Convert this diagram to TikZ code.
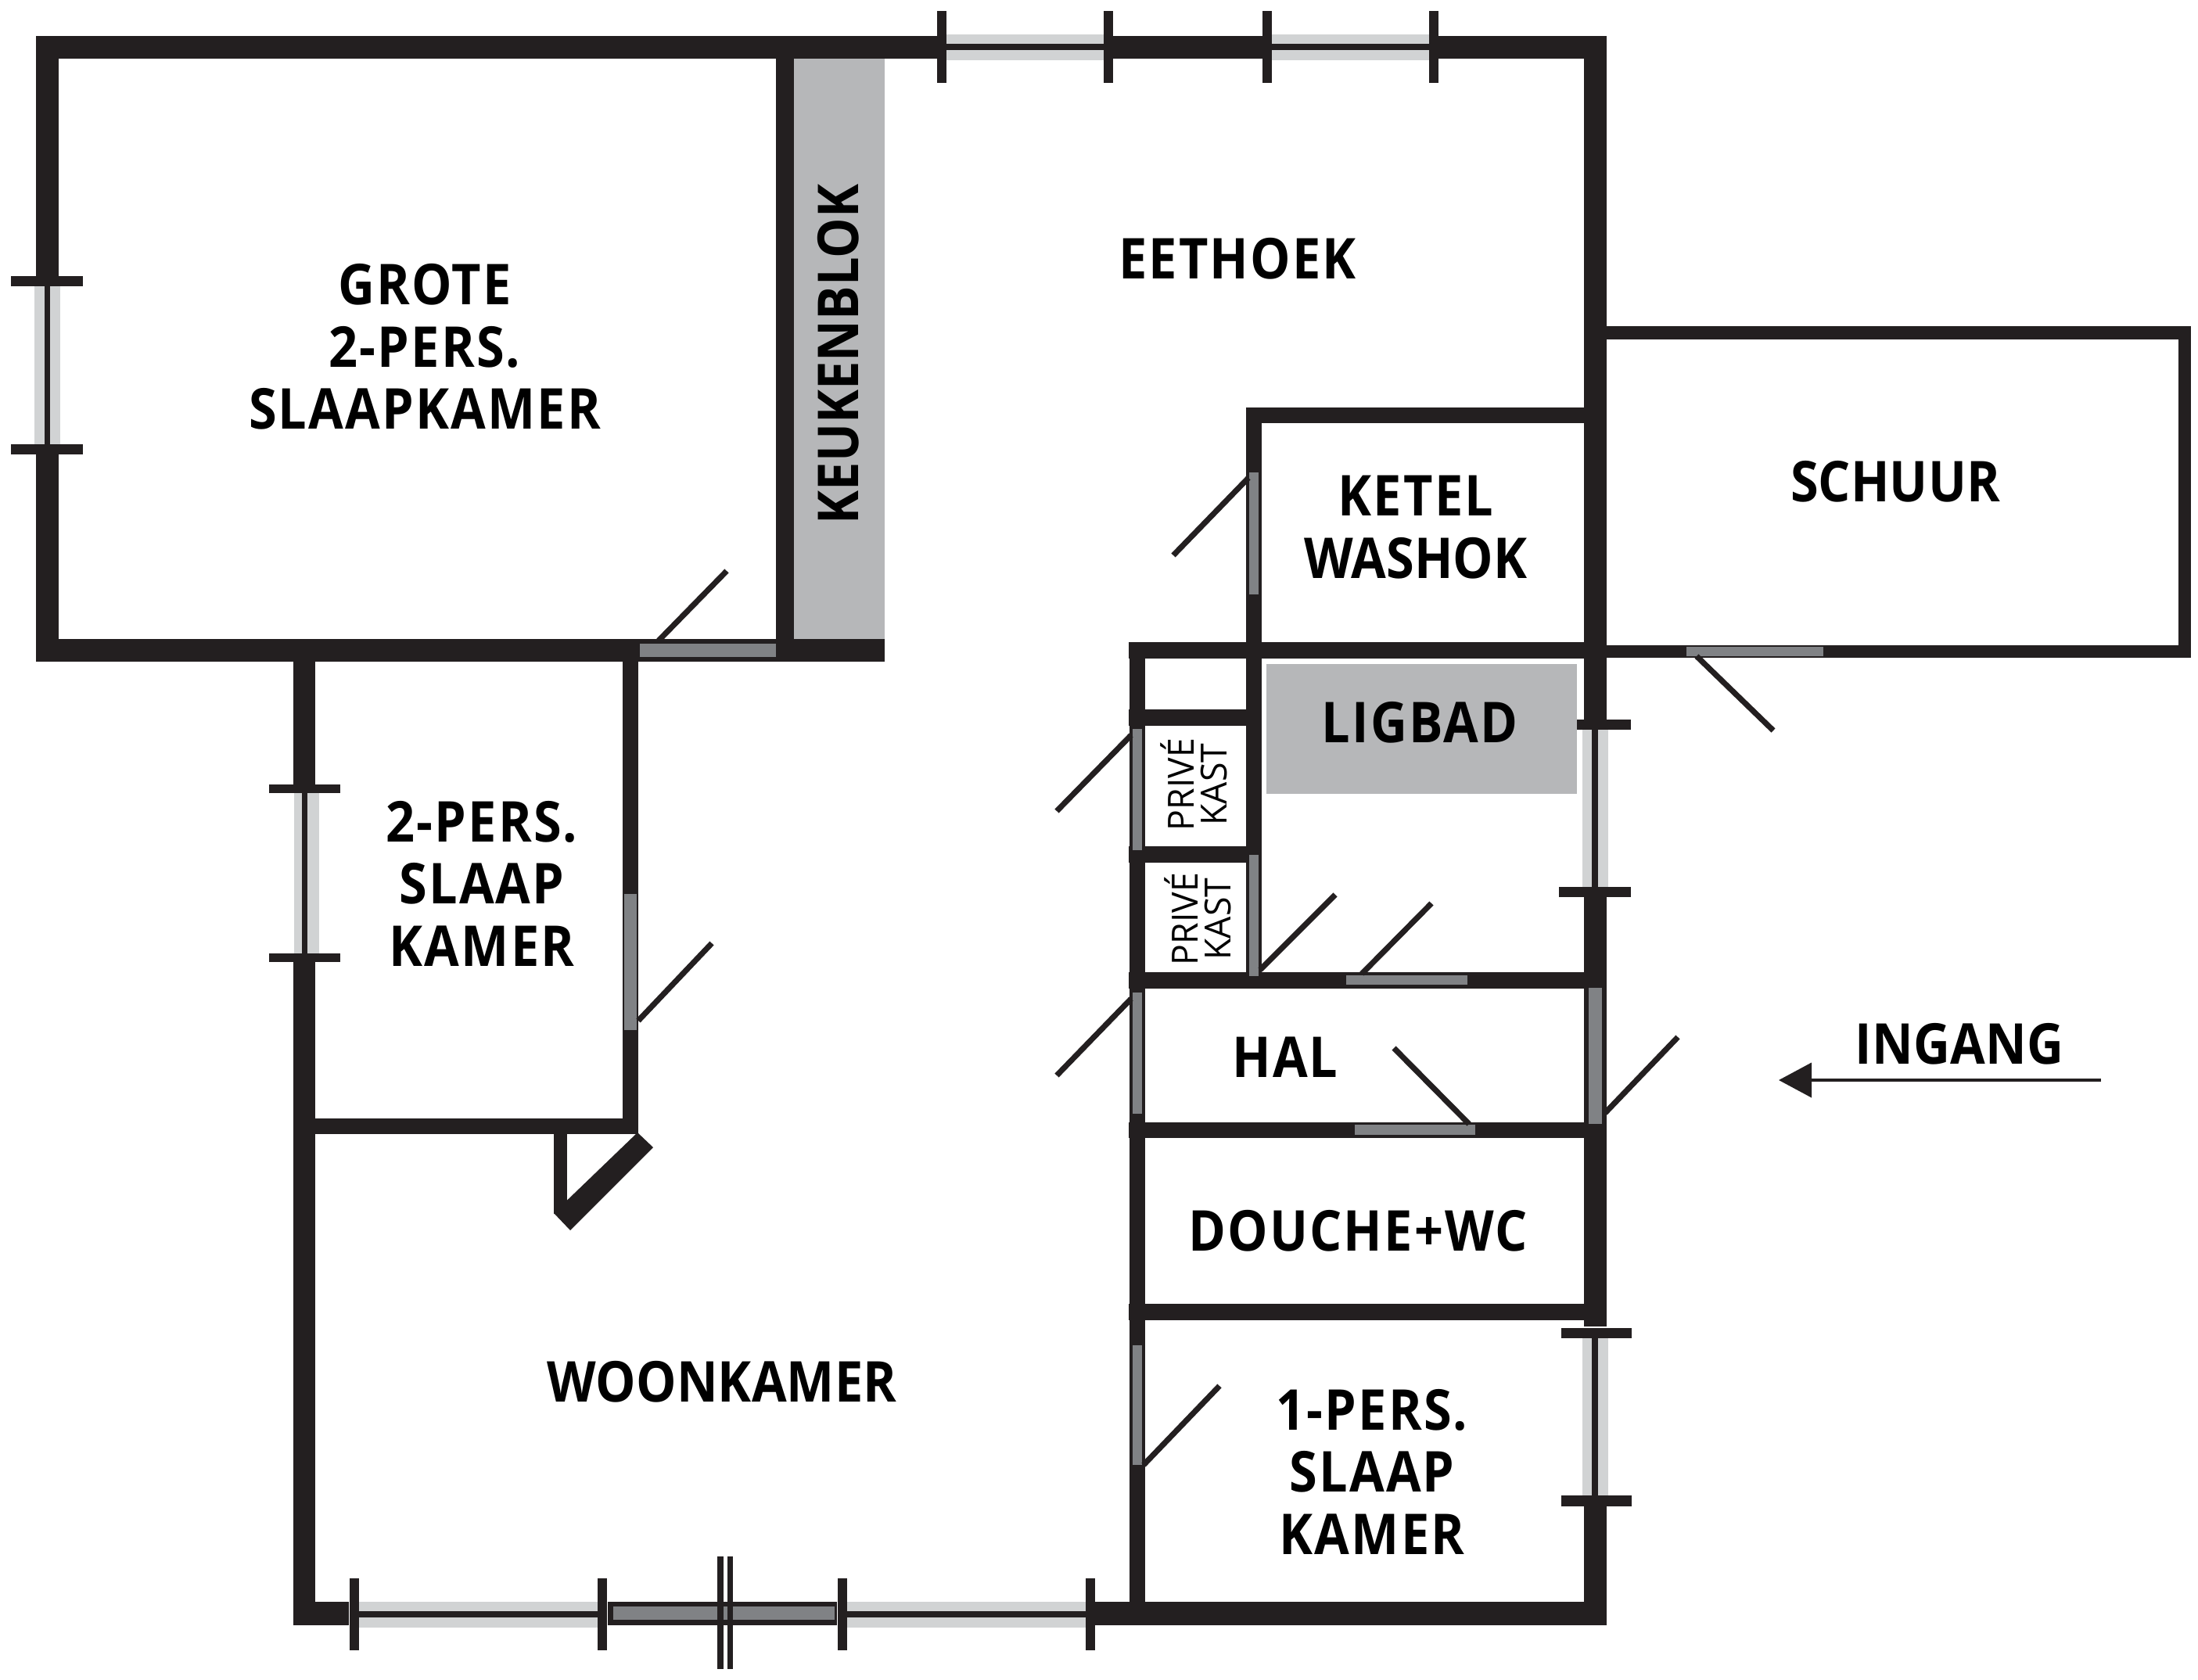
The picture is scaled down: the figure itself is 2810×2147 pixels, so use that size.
\documentclass[tikz,border=0pt]{standalone}
\usepackage{fontspec}
\setmainfont{Open Sans}
\newfontfamily\planbold[LetterSpace=3,FakeStretch=0.9]{Open Sans Bold}
\newfontfamily\plantight[LetterSpace=0.2,FakeStretch=0.9]{Open Sans Bold}
\newfontfamily\plankast[FakeStretch=0.97]{Open Sans}
\usetikzlibrary{arrows.meta}
\definecolor{wallc}{HTML}{231F20}
\definecolor{glassc}{HTML}{D1D3D4}
\definecolor{doorc}{HTML}{808285}
\definecolor{blockc}{HTML}{B6B7B9}
\tikzset{
 x=0.5pt,y=-0.5pt,
 wall/.style={fill=wallc},
 glass/.style={fill=glassc},
 door/.style={fill=doorc},
 block/.style={fill=blockc},
 leaf/.style={draw=wallc,line width=3.6pt,line cap=butt},
 room/.style={inner sep=0pt,text=black,font={\fontsize{36}{36}\planbold},text height=26pt,text depth=0pt,align=center},
 roomtight/.style={room,font={\fontsize{36}{36}\plantight}},
 kast/.style={inner sep=0pt,text=black,rotate=90,align=center,font={\fontsize{23}{21}\plankast}},
}
\newcommand{\hwin}[3]{% x1 x2 y-top of wall (horizontal window)
 \fill[glass] (#1,#3-2) rectangle (#2,#3+31);
 \fill[wall] (#1,#3+10) rectangle (#2,#3+18);
 \fill[wall] (#1-12,#3-32) rectangle (#1,#3+60);
 \fill[wall] (#2,#3-32) rectangle (#2+12,#3+60);
}
\begin{document}
\begin{tikzpicture}
\useasboundingbox (0,0) rectangle (2810,2147);
\fill[white] (0,0) rectangle (2810,2147);
% kitchen block and bath
\fill[block] (1015,75) rectangle (1131,819);
\fill[block] (1619,849) rectangle (2016,1015);
% top wall
\fill[wall] (46,46) rectangle (1204,75);
\fill[wall] (1417,46) rectangle (1620,75);
\fill[wall] (1833,46) rectangle (2054,75);
\hwin{1210}{1411}{46}
\hwin{1626}{1827}{46}
% big bedroom
\fill[wall] (46,46) rectangle (75,353);
\fill[wall] (46,581) rectangle (75,846);
\fill[wall] (46,817) rectangle (1131,846);
\fill[wall] (992,46) rectangle (1015,846);
\fill[glass] (44,366) rectangle (77,568);
\fill[wall] (57,366) rectangle (64,568);
\fill[wall] (14,353) rectangle (106,366);
\fill[wall] (14,568) rectangle (106,581);
\fill[door] (818,823) rectangle (992,840);
\draw[leaf] (842,819) -- (929,730);
% right wall
\fill[wall] (2025,46) rectangle (2054,920);
\fill[wall] (2025,1147) rectangle (2054,1696);
\fill[wall] (2025,1926) rectangle (2054,2078);
% bath window
\fill[glass] (2023,933) rectangle (2056,1134);
\fill[wall] (2035,933) rectangle (2043,1134);
\fill[wall] (2016,920) rectangle (2085,933);
\fill[wall] (1993,1134) rectangle (2085,1147);
% small bedroom window right
\fill[glass] (2023,1709) rectangle (2056,1912);
\fill[wall] (2035,1709) rectangle (2043,1912);
\fill[wall] (1996,1698) rectangle (2086,1711);
\fill[wall] (1996,1912) rectangle (2086,1926);
% schuur
\fill[wall] (2054,417) rectangle (2801,434);
\fill[wall] (2785,417) rectangle (2801,841);
\fill[wall] (2054,825) rectangle (2801,841);
\fill[door] (2156,827) rectangle (2331,839);
\draw[leaf] (2169,839) -- (2267,934);
% ketel
\fill[wall] (1594,521) rectangle (2054,541);
\fill[wall] (1593,521) rectangle (1613,1264);
\fill[door] (1597,604) rectangle (1609,760);
\draw[leaf] (1596,611) -- (1500,710);
% bath horizontal
\fill[wall] (1443,821) rectangle (2054,842);
\fill[wall] (1443,907) rectangle (1613,928);
\fill[wall] (1443,1082) rectangle (1613,1103);
\fill[wall] (1443,1243) rectangle (2054,1264);
\fill[wall] (1443,1435) rectangle (2054,1455);
\fill[wall] (1443,1667) rectangle (2054,1688);
\fill[wall] (1444,821) rectangle (1464,2078);
% doors in service block
\fill[door] (1448,932) rectangle (1460,1087);
\draw[leaf] (1446,940) -- (1351,1037);
\fill[door] (1597,1093) rectangle (1609,1248);
\draw[leaf] (1611,1240) -- (1707,1144);
\fill[door] (1721,1247) rectangle (1876,1259);
\draw[leaf] (1741,1245) -- (1830,1155);
\fill[door] (1448,1269) rectangle (1460,1424);
\draw[leaf] (1446,1277) -- (1351,1375);
\fill[door] (2031,1263) rectangle (2048,1437);
\draw[leaf] (2052,1423) -- (2145,1326);
\fill[door] (1732,1438) rectangle (1886,1451);
\draw[leaf] (1878,1437) -- (1782,1340);
\fill[door] (1448,1720) rectangle (1460,1873);
\draw[leaf] (1462,1873) -- (1559,1772);
% two-person bedroom and living room
\fill[wall] (375,846) rectangle (403,1003);
\fill[wall] (375,1230) rectangle (403,2078);
\fill[glass] (376,1014) rectangle (408,1219);
\fill[wall] (386,1014) rectangle (393,1219);
\fill[wall] (344,1003) rectangle (435,1014);
\fill[wall] (344,1219) rectangle (435,1230);
\fill[wall] (796,846) rectangle (816,1450);
\fill[door] (798,1143) rectangle (814,1317);
\draw[leaf] (816,1305) -- (910,1206);
\fill[wall] (403,1430) rectangle (816,1450);
\fill[wall] (708,1450) rectangle (725,1552);
\fill[wall] (815,1448) -- (835,1467) -- (729,1573) -- (708,1551) -- cycle;
% bottom wall
\fill[wall] (375,2048) rectangle (446,2078);
\fill[wall] (1400,2048) rectangle (2054,2078);
\hwin{459}{764}{2050}
\hwin{1083}{1388}{2050}
\fill[wall] (777,2048) rectangle (1070,2078);
\fill[door] (784,2054) rectangle (1067,2071);
\fill[wall] (917,1990) rectangle (925,2134);
\fill[wall] (930,1990) rectangle (937,2134);
% labels
\node[room] (grote) at (543,363) {GROTE};
\node[room] (grote2) at (543,443) {2-PERS.};
\node[room] (grote3) at (543,522) {SLAAPKAMER};
\node[roomtight,rotate=90] (keuken) at (1071,453) {KEUKENBLOK};
\node[room] (eet) at (1582,330) {EETHOEK};
\node[room] (ketel) at (1810,633) {KETEL};
\node[roomtight] (wash) at (1810,713) {WASHOK};
\node[roomtight] (schuur) at (2423,615) {SCHUUR};
\node[room] (ligbad) at (1815,923) {LIGBAD};
\node[room] (twee1) at (616,1050) {2-PERS.};
\node[room] (twee2) at (616,1129) {SLAAP};
\node[room] (twee3) at (616,1209) {KAMER};
\node[room] (hal) at (1643,1351) {HAL};
\node[room] (douche) at (1736,1573) {DOUCHE+WC};
\node[roomtight] (woon) at (923,1766) {WOONKAMER};
\node[room] (een1) at (1754,1802) {1-PERS.};
\node[room] (een2) at (1754,1881) {SLAAP};
\node[room] (een3) at (1754,1961) {KAMER};
\node[roomtight] (ingang) at (2505,1334) {INGANG};
\node[kast] (kast1) at (1526,1003) {PRIVÉ\\KAST};
\node[kast] (kast2) at (1531,1175) {PRIVÉ\\KAST};
% entrance arrow
\coordinate (arrowstart) at (2686,1381);
\coordinate (arrowtip) at (2274,1381);
\draw[wallc,line width=2pt,-{Triangle[length=21pt,width=22pt]}] (arrowstart) -- (arrowtip);
\end{tikzpicture}
\end{document}
